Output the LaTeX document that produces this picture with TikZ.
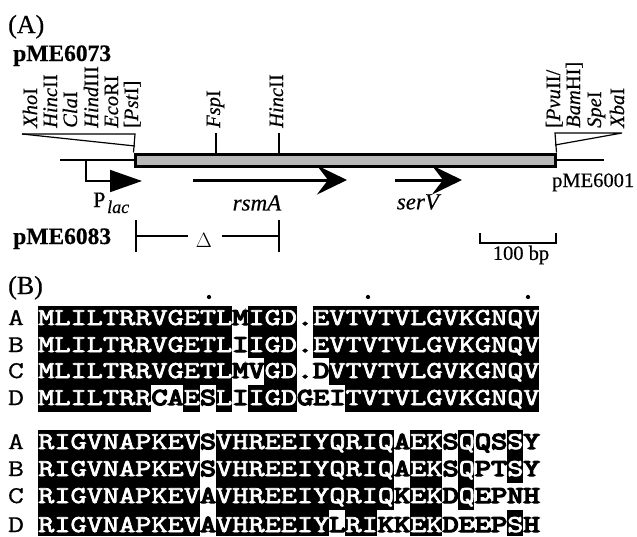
\documentclass[tikz,border=0pt]{standalone}
\usepackage{fontspec}
\setmainfont[FakeBold=0.5]{Liberation Serif}
\newfontfamily\seqfont[FakeStretch=1.3,FakeBold=3]{Latin Modern Mono}
\newfontfamily\oddfont[FakeStretch=1.3,FakeBold=6]{Latin Modern Mono}
\newfontfamily\tagfont[FakeStretch=1.3,FakeBold=0.6]{Latin Modern Mono}
\usepackage{tikz}
\usetikzlibrary{positioning,arrows.meta}
\newcommand{\kk}[1]{\textcolor{black}{\oddfont #1}}
\newcommand{\cellx}{16.16}

\begin{document}
\begin{tikzpicture}[
  x=1pt, y=-1pt,
  heading/.style={anchor=base west, inner sep=0pt, font=\fontsize{26}{26}\selectfont},
  plasmid/.style={anchor=base west, inner sep=0pt, font=\fontsize{23.5}{24}\selectfont\bfseries},
  plain/.style={inner sep=0pt, font=\fontsize{20.5}{21}\selectfont},
  site/.style={rotate=90, anchor=base west, inner sep=0pt, font=\fontsize{20.5}{21}\selectfont},
  insert/.style={draw, line width=3pt, fill=black!28, minimum width=420pt, minimum height=12pt, inner sep=0pt},
  vector/.style={line width=2pt},
  wedge/.style={line width=1.2pt},
  gene/.style={line width=3pt, -{Stealth[length=30pt,width=29pt,inset=11pt]}},
  bracket/.style={line width=1.6pt},
  residues/.style={anchor=base west, inner sep=0pt, text=white, font=\seqfont\fontsize{24.16}{25}\selectfont},
  rowtag/.style={anchor=base, inner sep=0pt, font=\tagfont\fontsize{24}{24}\selectfont},
  invariant/.style={circle, fill=black, inner sep=1.5pt}
]
\useasboundingbox (0,0) rectangle (637,536);

% panel A
\node[heading] (panelA) at (8,33) {(A)};
\node[plasmid] (p6073) at (13,61) {pME6073};

\node[insert] (insert) at (345,160) {};
\coordinate (vecL) at (60,160);
\coordinate (vecR) at (604,160);
\draw[vector] (vecL) -- (insert.west |- vecL);
\draw[vector] (insert.east |- vecR) -- (vecR);

\foreach \sname/\sx/\stext in {xho/37/{\textit{Xho}I}, hincA/57/{\textit{Hinc}II}, cla/77/{\textit{Cla}I},
    hind/98/{\textit{Hind}III}, eco/118/{\textit{Eco}RI}, pst/138/{[\textit{Pst}I]},
    fsp/220/{\textit{Fsp}I}, hincB/283/{\textit{Hinc}II}, pvu/560/{[\textit{Pvu}II/},
    bam/580/{\textit{Bam}HI]}, spe/601/{\textit{Spe}I}, xba/624/{\textit{Xba}I}}
  \node[site] (\sname) at (\sx,128) {\stext};

% cloning site wedges
\coordinate (wedgeLa) at (22,134);
\coordinate (wedgeLb) at (135,134);
\coordinate (wedgeLc) at (135,146);
\draw[wedge] (wedgeLa) -- (wedgeLb) -- (insert.north west);
\draw[wedge] (wedgeLa) -- (wedgeLc);
\coordinate (wedgeRa) at (555,133);
\coordinate (wedgeRb) at (622,133);
\coordinate (wedgeRc) at (555,145);
\draw[wedge] (insert.north east) -- (wedgeRa) -- (wedgeRb) -- (wedgeRc);

\coordinate (tickF) at (216,133);
\coordinate (tickH) at (279,133);
\draw[line width=1.2pt] (tickF) -- (tickF |- insert.north);
\draw[line width=1.2pt] (tickH) -- (tickH |- insert.north);

% promoter and genes
\coordinate (lacUp) at (86,160);
\coordinate (lacTip) at (142,181);
\draw[line width=1.8pt, -{Triangle[length=32pt,width=22pt]}] (lacUp) |- (lacTip);
\node[anchor=base west, inner sep=0pt, font=\fontsize{22}{22}\selectfont] (plac) at (93,207) {P};
\node[anchor=base west, inner sep=0pt, font=\fontsize{18}{18}\selectfont\itshape] (lac) at (107,213) {lac};

\coordinate (rsmS) at (193,180);
\coordinate (rsmE) at (347,180);
\coordinate (serS) at (395,180);
\coordinate (serE) at (462,180);
\draw[gene] (rsmS) -- (rsmE);
\draw[gene] (serS) -- (serE);
\node[plain, font=\fontsize{23}{23}\selectfont] (rsmA) at (257,203) {\textit{rsmA}};
\node[plain, font=\fontsize{23}{23}\selectfont] (serV) at (419,202) {\textit{serV}};
\node[plain, anchor=base west] (p6001) at (552,187) {pME6001};

% deletion
\node[plasmid] (p6083) at (13,244) {pME6083};
\node[plain] (delta) at (204,240) {$\Delta$};
\coordinate (delL) at (136,236);
\coordinate (delR) at (279,236);
\coordinate (delM) at (188,236);
\coordinate (delN) at (222,236);
\coordinate (delLa) at (136,220);
\coordinate (delLb) at (136,252);
\coordinate (delRa) at (279,220);
\coordinate (delRb) at (279,252);
\draw[bracket] (delLa) -- (delLb);
\draw[bracket] (delRa) -- (delRb);
\draw[bracket] (delL) -- (delM);
\draw[bracket] (delN) -- (delR);

% scale
\coordinate (barL) at (480,243);
\coordinate (barR) at (556,243);
\coordinate (barLt) at (480,233);
\coordinate (barRt) at (556,233);
\draw[bracket] (barLt) -- (barL) -- (barR) -- (barRt);
\node[plain] (scale) at (521,255) {100 bp};

% panel B
\node[heading] (panelB) at (8,294) {(B)};
\foreach \dotname/\dotx in {dotA/209, dotB/368, dotC/528}
  \node[invariant] (\dotname) at (\dotx,297) {};

\fill[black] (38,306) rectangle (539,412);
\fill[black] (38,430) rectangle (539,536);

% cells that differ
\foreach \ya/\yb/\cols in {306/332/{12,16}, 332/358/{12,16}, 358/385/{12,13,16,17}, 385/412/{7,8,10,12,16,17,18},
    430/456/{10,22,25,27,28,30}, 456/483/{10,22,25,27,28,30}, 483/510/{10,22,25,27,28,29,30}, 510/536/{10,18,21,22,25,26,27,28,30}}
  \foreach \c in \cols
    \fill[white] ({38+\cellx*\c},\ya) rectangle ({38+\cellx*(\c+1)},\yb);

\node[residues] (seqA1) at (38,325) {MLILTRRVGETL\kk{M}IGD\kk{.}EVTVTVLGVKGNQV};
\node[residues] (seqB1) at (38,352) {MLILTRRVGETL\kk{I}IGD\kk{.}EVTVTVLGVKGNQV};
\node[residues] (seqC1) at (38,378) {MLILTRRVGETL\kk{MV}GD\kk{.D}VTVTVLGVKGNQV};
\node[residues] (seqD1) at (38,405) {MLILTRR\kk{CA}E\kk{S}L\kk{I}IGD\kk{GEI}TVTVLGVKGNQV};
\node[residues] (seqA2) at (38,449) {RIGVNAPKEV\kk{S}VHREEIYQRIQ\kk{A}EK\kk{S}Q\kk{QS}S\kk{Y}};
\node[residues] (seqB2) at (38,476) {RIGVNAPKEV\kk{S}VHREEIYQRIQ\kk{A}EK\kk{S}Q\kk{PT}S\kk{Y}};
\node[residues] (seqC2) at (38,503) {RIGVNAPKEV\kk{A}VHREEIYQRIQ\kk{K}EK\kk{D}Q\kk{EPNH}};
\node[residues] (seqD2) at (38,532) {RIGVNAPKEV\kk{A}VHREEIY\kk{L}RI\kk{KK}EK\kk{DEEP}S\kk{H}};

\foreach \tname/\ty/\ttext in {tagA1/325/A, tagB1/352/B, tagC1/378/C, tagD1/405/D,
    tagA2/449/A, tagB2/476/B, tagC2/503/C, tagD2/532/D}
  \node[rowtag] (\tname) at (16,\ty) {\ttext};
\end{tikzpicture}
\end{document}
